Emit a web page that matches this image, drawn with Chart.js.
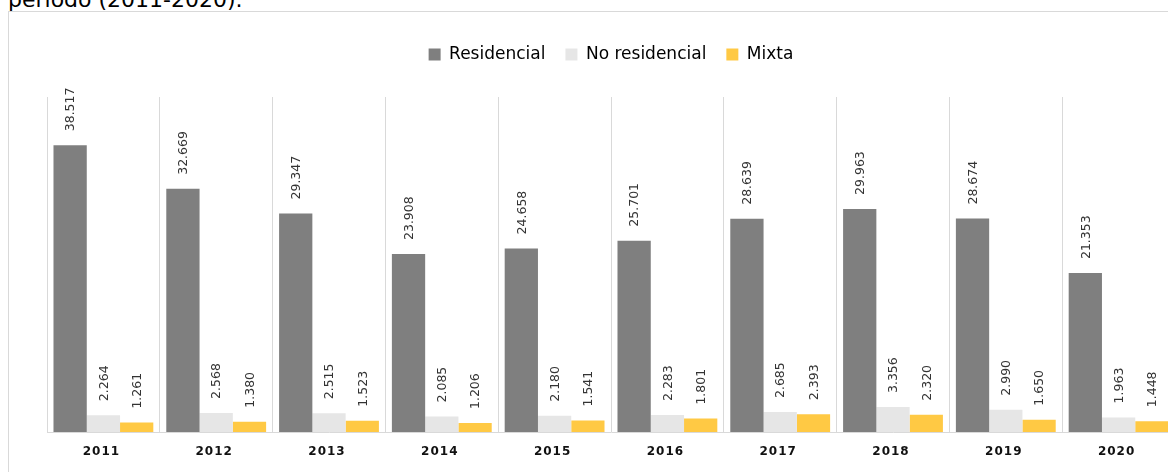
<!DOCTYPE html>
<html>
<head>
<meta charset="utf-8">
<script src="https://cdn.jsdelivr.net/npm/chart.js@4"></script>
<style>
  body { margin: 0; width: 1168px; height: 472px; overflow: hidden; background: #fff; position: relative; }
  .titulo { position: absolute; left: 8px; top: -11px; font: 22px "DejaVu Sans", sans-serif; line-height: 22px; color: #000; white-space: nowrap; }
  .marco { position: absolute; left: 8px; top: 11px; width: 1250px; height: 520px; border: 1px solid #d9d9d9; }
  #grafico { position: absolute; left: 0; top: 0; }
</style>
</head>
<body>
<div class="titulo">periodo (2011-2020).</div>
<div class="marco"><canvas id="grafico" width="1200" height="470"></canvas></div>
<script>
const years = ['2011', '2012', '2013', '2014', '2015', '2016', '2017', '2018', '2019', '2020'];
const residencial = [38.517, 32.669, 29.347, 23.908, 24.658, 25.701, 28.639, 29.963, 28.674, 21.353];
const noResidencial = [2.264, 2.568, 2.515, 2.085, 2.180, 2.283, 2.685, 3.356, 2.990, 1.963];
const mixta = [1.261, 1.380, 1.523, 1.206, 1.541, 1.801, 2.393, 2.320, 1.650, 1.448];

// rotated value labels above every bar
const etiquetas = {
  id: 'etiquetas',
  afterDatasetsDraw(chart) {
    const ctx = chart.ctx;
    ctx.save();
    ctx.fillStyle = '#333';
    ctx.font = '12.5px "DejaVu Sans", sans-serif';
    ctx.textAlign = 'left';
    ctx.textBaseline = 'middle';
    chart.data.datasets.forEach((ds, i) => {
      chart.getDatasetMeta(i).data.forEach((bar, j) => {
        ctx.save();
        ctx.translate(bar.x + 1, bar.y - 14);
        ctx.rotate(-Math.PI / 2);
        ctx.fillText(ds.data[j].toFixed(3), 0, 0);
        ctx.restore();
      });
    });
    ctx.restore();
  }
};

// bold, letter-spaced year labels under the axis
const anios = {
  id: 'anios',
  afterDraw(chart) {
    const ctx = chart.ctx;
    const x = chart.scales.x;
    ctx.save();
    ctx.fillStyle = '#111';
    ctx.font = 'bold 12px "DejaVu Sans", sans-serif';
    ctx.letterSpacing = '1px';
    ctx.textAlign = 'center';
    ctx.textBaseline = 'middle';
    years.forEach((y, i) => {
      ctx.fillText(y, x.getPixelForTick(i) - 2, x.top + 20);
    });
    ctx.restore();
  }
};

const altoLeyenda = {
  id: 'altoLeyenda',
  beforeInit(chart) {
    const fit = chart.legend.fit;
    chart.legend.fit = function () {
      fit.bind(chart.legend)();
      this.height = 71;
    };
  }
};

new Chart(document.getElementById('grafico'), {
  type: 'bar',
  data: {
    labels: years,
    datasets: [
      { label: 'Residencial', data: residencial, backgroundColor: '#7f7f7f' },
      { label: 'No residencial', data: noResidencial, backgroundColor: '#e6e6e6' },
      { label: 'Mixta', data: mixta, backgroundColor: '#ffc944' }
    ]
  },
  options: {
    responsive: false,
    animation: false,
    devicePixelRatio: 1,
    categoryPercentage: 0.885,
    barPercentage: 1,
    layout: { padding: { left: 38, right: 34, top: 14, bottom: 0 } },
    scales: {
      x: {
        grid: { display: true, color: '#d9d9d9', lineWidth: 1, drawTicks: false, offset: true },
        border: { display: true, color: '#d9d9d9' },
        ticks: { display: false },
        afterFit: (s) => { s.height = 50; }
      },
      y: { display: false, min: 0, max: 45 }
    },
    plugins: {
      legend: {
        position: 'top',
        labels: {
          boxWidth: 12,
          boxHeight: 12,
          padding: 20,
          color: '#000',
          font: { size: 17, family: '"DejaVu Sans", sans-serif' }
        }
      },
      tooltip: { enabled: false },
      title: { display: false }
    }
  },
  plugins: [etiquetas, anios, altoLeyenda]
});
</script>
</body>
</html>
